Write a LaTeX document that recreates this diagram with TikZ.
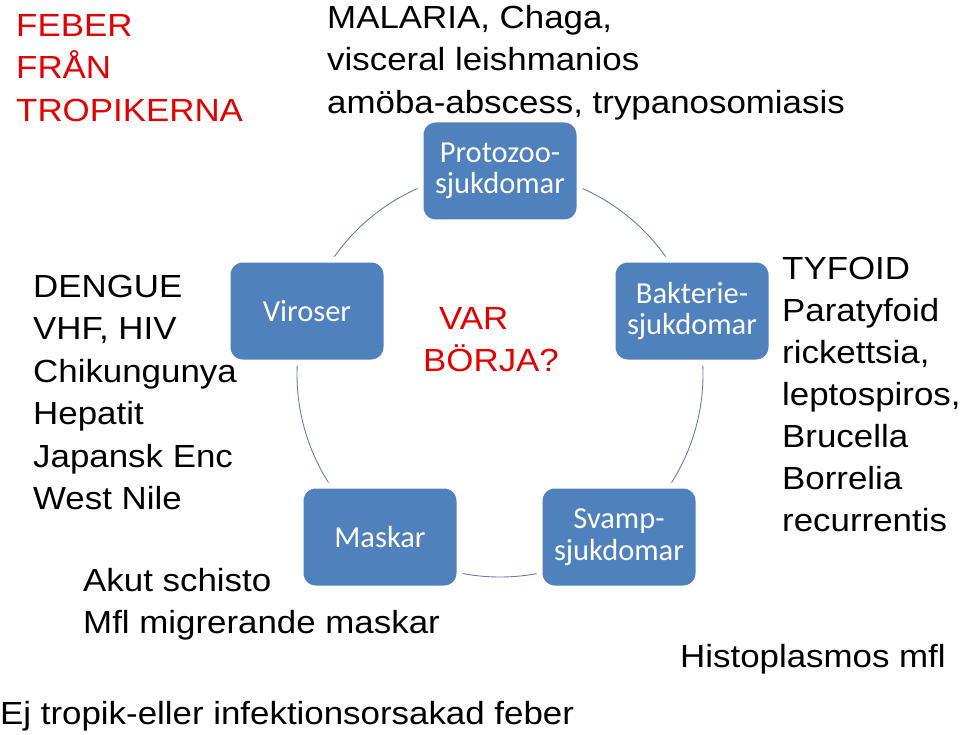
\documentclass[tikz,border=0pt]{standalone}
\usepackage{fontspec}
\setmainfont{Liberation Sans}[FakeStretch=1.09]
\newfontfamily\boxfont{Carlito}
\definecolor{boxblue}{RGB}{79,129,189}
\definecolor{ringcol}{RGB}{100,128,172}
\definecolor{redtxt}{RGB}{228,0,0}
\begin{document}
\begin{tikzpicture}[x=1pt,y=-1pt,
  cyc/.style={rectangle, rounded corners=15pt, fill=boxblue, draw=white, line width=6pt,
    minimum width=159pt, minimum height=103pt, inner sep=0pt, align=center, text=white,
    font=\boxfont\fontsize{30.5}{31.5}\selectfont},
  lbl/.style={anchor=north west, inner sep=0pt, align=left, font=\fontsize{32}{42.5}\selectfont},
  ring/.style={draw=ringcol, line width=0.9pt}]
\useasboundingbox (0,0) rectangle (960,735);
\coordinate (ctr) at (500,374);
\draw[ring] (ctr) circle[radius=203];
\node[cyc] (proto) at (500,171) {Protozoo-\\sjukdomar};
\node[cyc] (bakt) at (692,311) {Bakterie-\\sjukdomar};
\node[cyc] (svamp) at (619,537) {Svamp-\\sjukdomar};
\node[cyc] (mask) at (380,537) {Maskar};
\node[cyc] (viro) at (307,311) {Viroser};
\node[lbl, text=redtxt] (title) at (16,6.25) {\strut FEBER\\FRÅN\\TROPIKERNA};
\node[lbl] (prototxt) at (327,-1.75) {\strut MALARIA, Chaga,\\visceral leishmanios\\amöba-abscess, trypanosomiasis};
\node[lbl] (virotxt) at (33,267.25) {\strut DENGUE\\VHF, HIV\\Chikungunya\\Hepatit\\Japansk Enc\\West Nile};
\node[lbl, font=\fontsize{32}{42}\selectfont] (bakttxt) at (782,250.25) {\strut TYFOID\\Paratyfoid\\rickettsia,\\leptospiros,\\Brucella\\Borrelia\\recurrentis};
\node[lbl, text=redtxt] (start) at (423,299.25) {\strut\hspace{16pt}VAR\\BÖRJA?};
\node[lbl] (masktxt) at (83,561.25) {\strut Akut schisto\\Mfl migrerande maskar};
\node[lbl] (svamptxt) at (680,637.25) {\strut Histoplasmos mfl};
\node[lbl] (other) at (0,694.25) {\strut Ej tropik-eller infektionsorsakad feber};
\end{tikzpicture}
\end{document}
